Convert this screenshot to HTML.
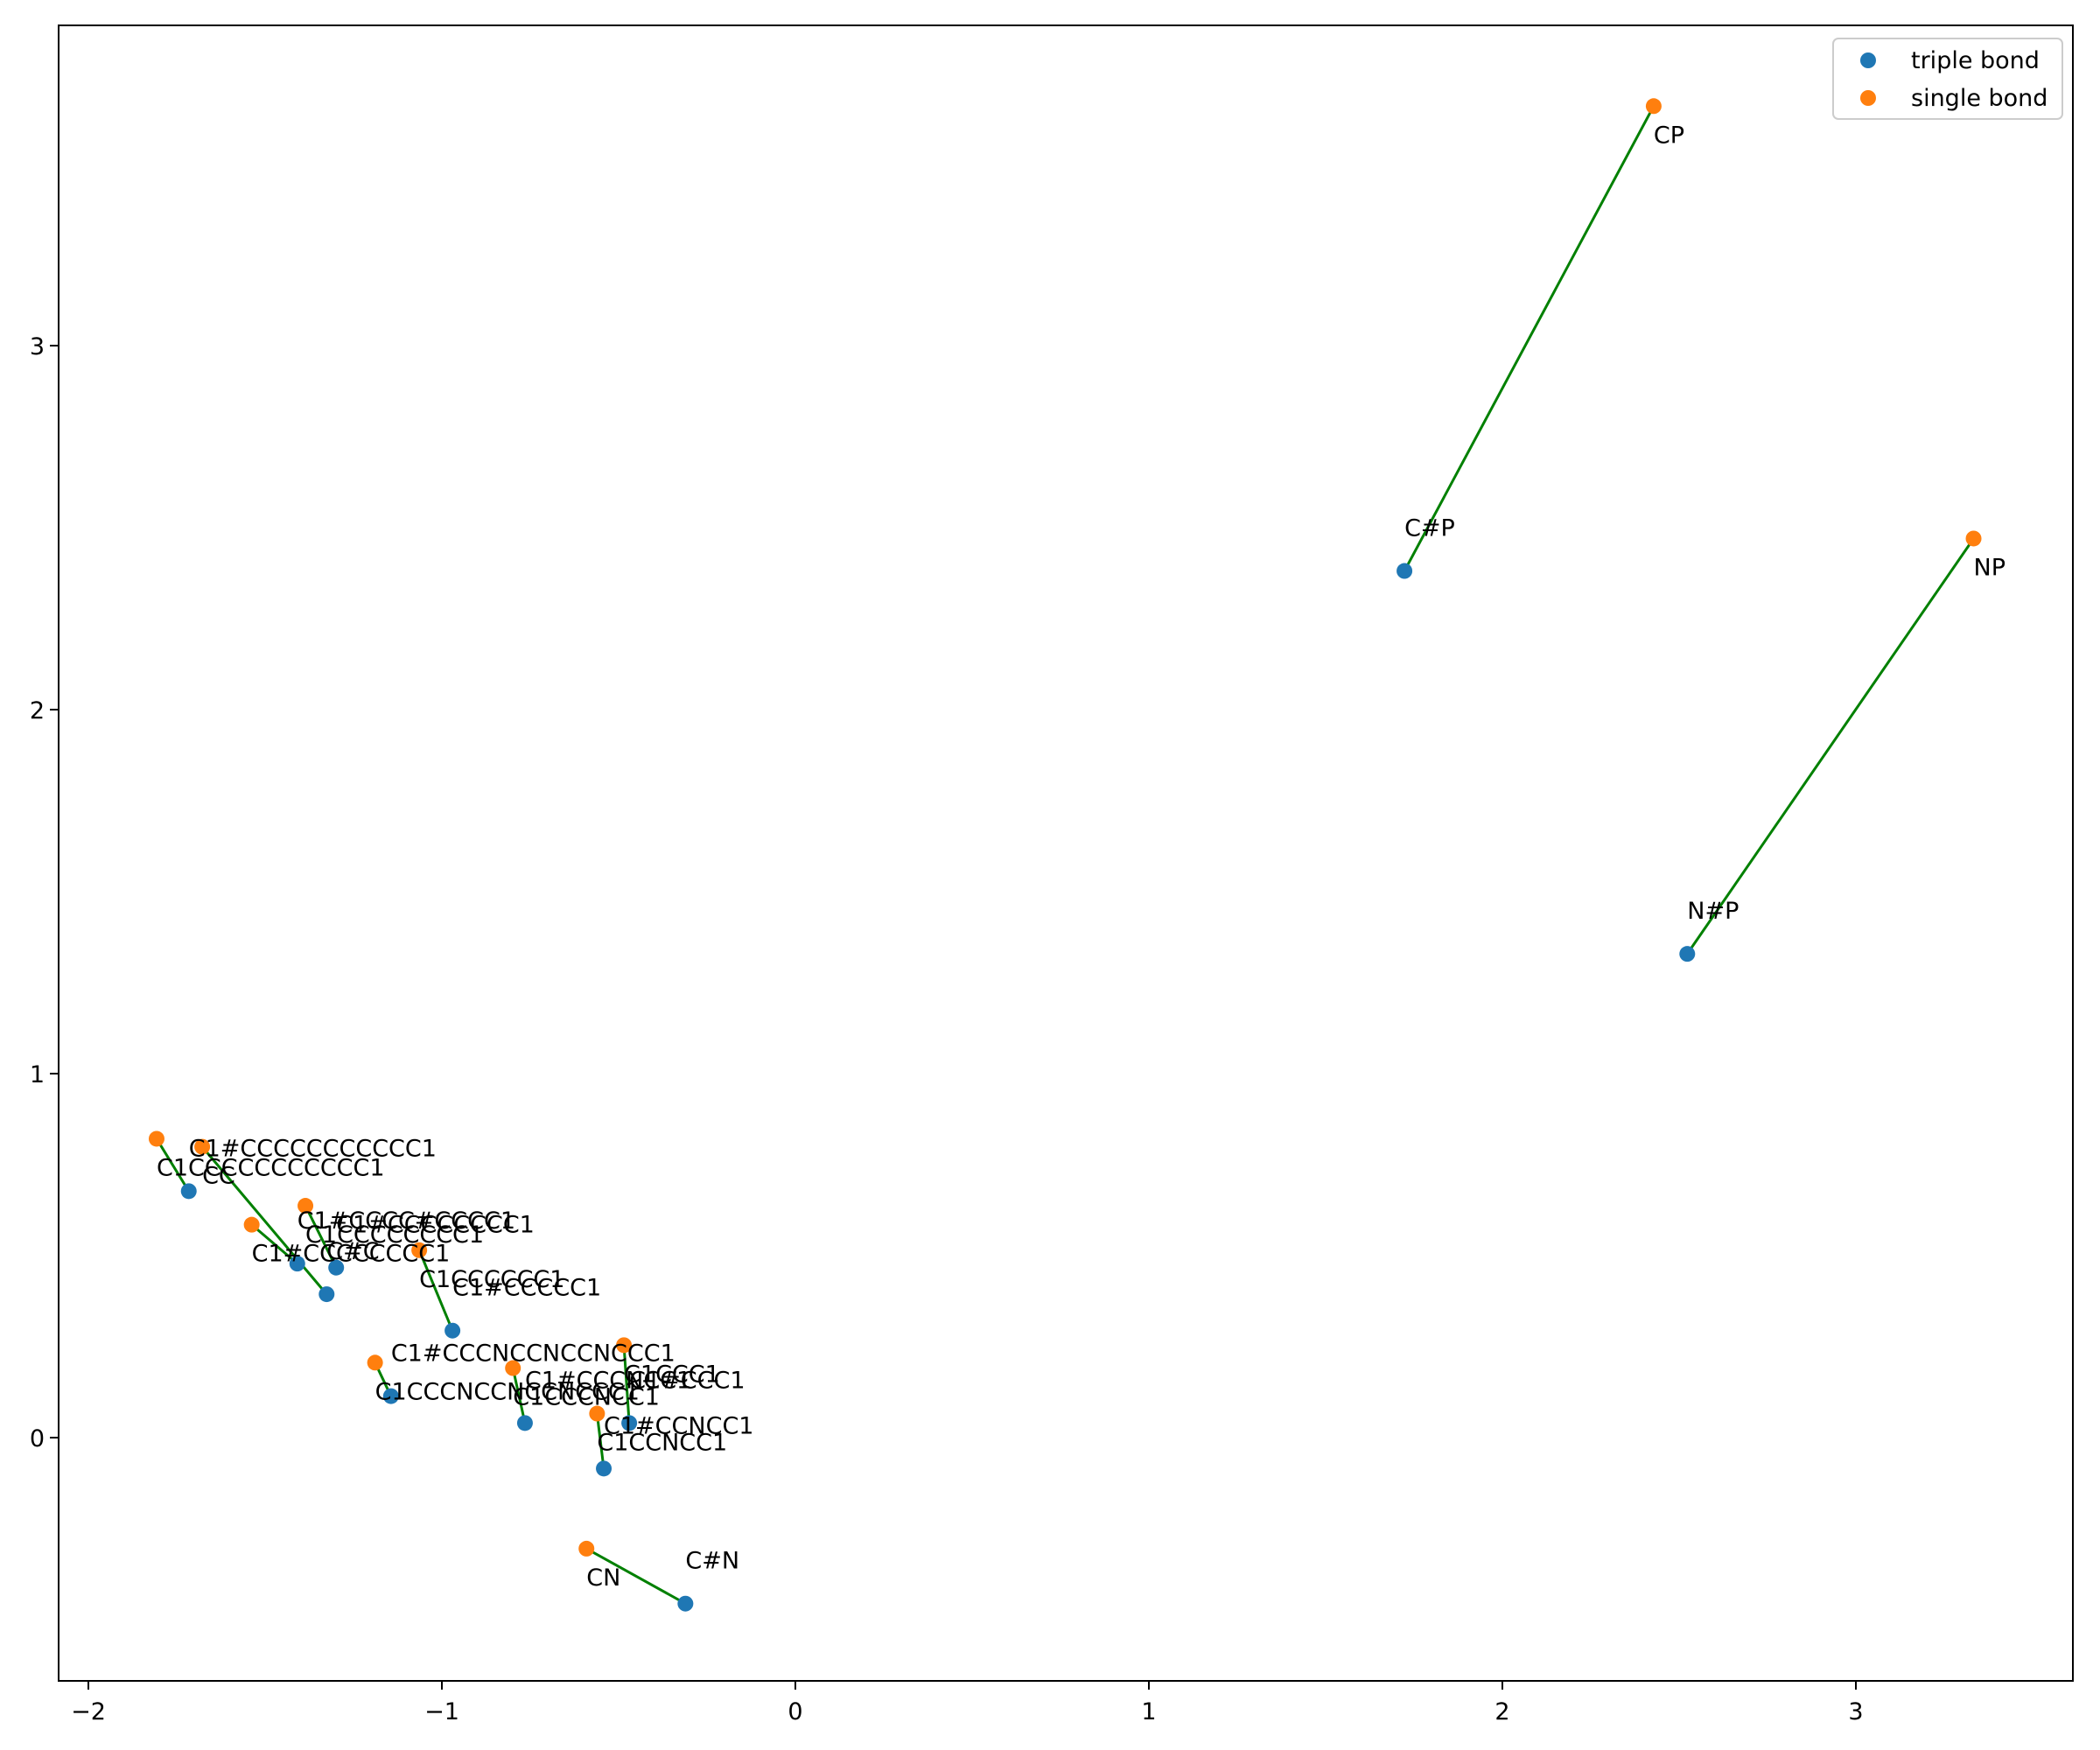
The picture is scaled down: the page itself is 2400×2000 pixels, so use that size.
<!DOCTYPE html>
<html><head><meta charset="utf-8"><style>
html,body{margin:0;padding:0;background:#fff;}
svg{display:block;font-family:"DejaVu Sans","Liberation Sans",sans-serif;}
</style></head><body>
<svg id="chart" width="2400" height="2000" viewBox="0 0 2400 2000" xmlns="http://www.w3.org/2000/svg">
<rect x="0" y="0" width="2400" height="2000" fill="#fff"/>
<g id="lines"></g><g id="points"></g><g id="labels"></g><g id="axes"></g>
<g id="legend">
<rect x="2095" y="44" width="262" height="92" rx="6" fill="#fff" stroke="#ccc" stroke-width="2"/>
<circle cx="2135" cy="69" r="9" fill="#1f77b4"/>
<text x="2184" y="78" font-size="27">triple bond</text>
<circle cx="2135" cy="112" r="9" fill="#ff7f0e"/>
<text x="2184" y="121" font-size="27">single bond</text>
</g>
</svg>
<script>
const tripleLabels=["C#P","N#P","C#N","C1#CCCCCCCCCCC1","C#C","C1#CCCC#CCCC1","C1#CCCCCCCC1","C1#CCCCC1","C1#CCCNCCNCCNCCC1","C1#CCCNCC1","C1#CCC1","C1#CCNCC1"];
const tripleX=[1.723,2.523,-0.311,-1.716,-1.326,-1.409,-1.299,-0.970,-1.144,-0.765,-0.470,-0.542];
const tripleY=[2.381,1.329,-0.456,0.677,0.394,0.478,0.467,0.294,0.114,0.040,0.040,-0.085];
const singleLabels=["CP","NP","CN","C1CCCCCCCCCCC1","CC","C1#CCCCCCCC1","C1CCCCCCCC1","C1CCCCCC1","C1CCCNCCNCCNCCC1","C1CCCNCC1","C1CCC1","C1CCNCC1"];
const singleX=[2.428,3.333,-0.591,-1.807,-1.678,-1.538,-1.386,-1.064,-1.189,-0.799,-0.485,-0.561];
const singleY=[3.658,2.470,-0.305,0.821,0.799,0.585,0.637,0.515,0.206,0.191,0.254,0.066];
const xTicks=[-2,-1,0,1,2,3];
const yTicks=[0,1,2,3];

const L=67,R=2369,T=29,B=1921;
function sx(v){return 909+404*v;}
function sy(v){return 1643-416*v;}
const NS="http://www.w3.org/2000/svg";
function mk(tag,attrs,parent){const e=document.createElementNS(NS,tag);for(const k in attrs)e.setAttribute(k,attrs[k]);parent.appendChild(e);return e;}
const gl=document.getElementById('lines'),gp=document.getElementById('points'),gt=document.getElementById('labels'),ga=document.getElementById('axes');

for(let i=0;i<tripleX.length;i++){
  const ln=mk('line',{x1:sx(singleX[i]),y1:sy(singleY[i]),x2:sx(tripleX[i]),y2:sy(tripleY[i]),stroke:'#008000','stroke-width':3},gl);
  
  
}
for(let i=0;i<tripleX.length;i++){
  const c=mk('circle',{cx:sx(tripleX[i]),cy:sy(tripleY[i]),r:9,fill:'#1f77b4'},gp);
  
  
}
for(let i=0;i<singleX.length;i++){
  const c=mk('circle',{cx:sx(singleX[i]),cy:sy(singleY[i]),r:9,fill:'#ff7f0e'},gp);
  
  
}
for(let i=0;i<tripleX.length;i++){
  const t=mk('text',{x:sx(tripleX[i]),y:sy(tripleY[i])-40,'font-size':27},gt);
  t.textContent=tripleLabels[i];
  
  
}
for(let i=0;i<singleX.length;i++){
  const t=mk('text',{x:sx(singleX[i]),y:sy(singleY[i])+42,'font-size':27},gt);
  t.textContent=singleLabels[i];
  
  
}
const frame=mk('rect',{x:L,y:T,width:R-L,height:B-T,fill:'none',stroke:'#000','stroke-width':2},ga);


for(const v of xTicks){
  const x=sx(v);
  const tk=mk('line',{x1:x,y1:B,x2:x,y2:B+10,stroke:'#000','stroke-width':2},ga);
  
  
  const tl=mk('text',{x:x,y:B+44,'font-size':27,'text-anchor':'middle'},ga);
  tl.textContent=v<0?'\u2212'+Math.abs(v):String(v);
  
  
}
for(const v of yTicks){
  const y=sy(v);
  const tk=mk('line',{x1:L-10,y1:y,x2:L,y2:y,stroke:'#000','stroke-width':2},ga);
  
  
  const tl=mk('text',{x:L-16,y:y+10,'font-size':27,'text-anchor':'end'},ga);
  tl.textContent=String(v);
  
  
}
</script>
</body></html>
